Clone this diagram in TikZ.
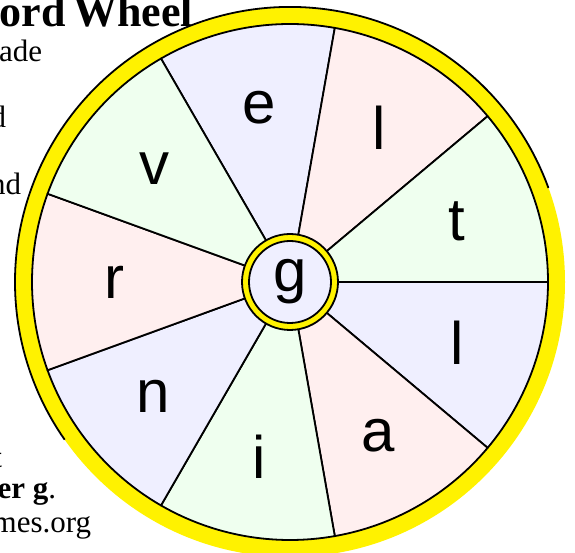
\documentclass[tikz,border=0pt]{standalone}
\usepackage{fontspec}
\setmainfont{Liberation Serif}
\setsansfont{Liberation Sans}
\definecolor{lav}{HTML}{EFEFFF}
\definecolor{pnk}{HTML}{FFEFEF}
\definecolor{grn}{HTML}{EFFFEF}
\begin{document}
\begin{tikzpicture}[x=1pt,y=1pt,line width=1.8pt,
 sec/.style={draw=black,line join=round},
 lt/.style={font=\fontsize{60}{60}\selectfont\sffamily,inner sep=0pt},
 txt/.style={anchor=base east,inner sep=0pt,font=\fontsize{31}{35}\selectfont}]
\useasboundingbox(-290,-271)rectangle(285,282);
% text behind the wheel
\node[txt,font=\fontsize{44}{48}\selectfont\bfseries](ttl)at(-96,255){Word\hspace{0.17em}Wheel};
\node[txt](t1)at(-247,220){ade};
\node[txt](t2)at(-283,154){d};
\node[txt](t3)at(-268,87){nd};
\node[txt](t4)at(-287,-186){t};
\node[txt](t5)at(-233,-216){{\bfseries er g}.};
\node[txt](t6)at(-198,-250){mes.org};
% rim
\fill[yellow](0,0)circle(275);
\draw(20:275)arc[start angle=20,end angle=215,radius=275];
% sectors
\filldraw[sec,fill=lav](0,0)--(80:258)arc[start angle=80,end angle=120,radius=258]--cycle;
\filldraw[sec,fill=pnk](0,0)--(40:258)arc[start angle=40,end angle=80,radius=258]--cycle;
\filldraw[sec,fill=grn](0,0)--(0:258)arc[start angle=0,end angle=40,radius=258]--cycle;
\filldraw[sec,fill=lav](0,0)--(-40:258)arc[start angle=-40,end angle=0,radius=258]--cycle;
\filldraw[sec,fill=pnk](0,0)--(-80:258)arc[start angle=-80,end angle=-40,radius=258]--cycle;
\filldraw[sec,fill=grn](0,0)--(-120:258)arc[start angle=-120,end angle=-80,radius=258]--cycle;
\filldraw[sec,fill=lav](0,0)--(-160:258)arc[start angle=-160,end angle=-120,radius=258]--cycle;
\filldraw[sec,fill=pnk](0,0)--(160:258)arc[start angle=160,end angle=200,radius=258]--cycle;
\filldraw[sec,fill=grn](0,0)--(120:258)arc[start angle=120,end angle=160,radius=258]--cycle;
% hub
\filldraw[fill=yellow](0,0)circle(48);
\filldraw[fill=lav](0,0)circle(41);
\node[lt](g)at(0,0){g};
% letters
\node[lt](e)at(100:177){e};
\node[lt](l1)at(60:178){l};
\node[lt](t)at(20:178){t};
\node[lt](l2)at(-20:178){l};
\node[lt](a)at(-60:177){a};
\node[lt](i)at(-100:177){i};
\node[lt](n)at(-140:178){n};
\node[lt](r)at(180:176){r};
\node[lt](v)at(140:177){v};
\end{tikzpicture}
\end{document}
